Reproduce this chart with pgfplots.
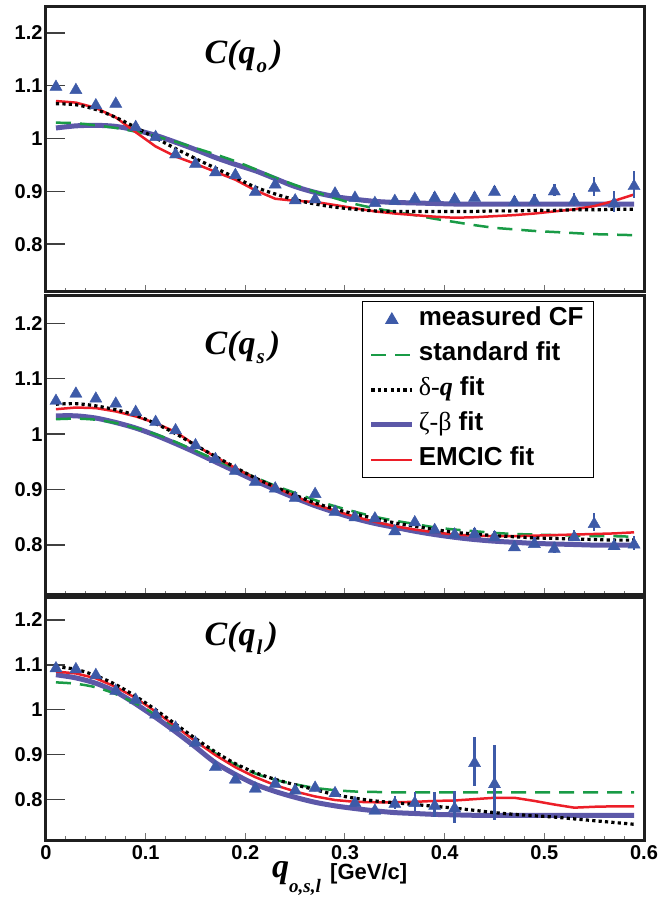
\documentclass[border=0pt]{standalone}
\usepackage{pgfplots}
\pgfplotsset{compat=1.18}
\usepackage{pgfplotstable}
\usepackage{fontspec}
\setmainfont{Liberation Sans}
\newfontfamily\tms{Liberation Serif}
\definecolor{tblue}{RGB}{61,90,168}
\definecolor{tgreen}{RGB}{25,155,70}
\definecolor{tpurple}{RGB}{92,88,168}
\definecolor{tred}{RGB}{236,30,40}

% measured CF: x y err
\pgfplotstableread{
x y e
0.01 1.101 0.004
0.03 1.095 0.004
0.05 1.066 0.004
0.07 1.069 0.004
0.09 1.025 0.004
0.11 1.006 0.004
0.13 0.973 0.004
0.15 0.955 0.004
0.17 0.939 0.004
0.19 0.934 0.005
0.21 0.902 0.005
0.23 0.916 0.005
0.25 0.886 0.005
0.27 0.888 0.005
0.29 0.899 0.006
0.31 0.891 0.006
0.33 0.881 0.006
0.35 0.885 0.006
0.37 0.889 0.006
0.39 0.891 0.007
0.41 0.888 0.007
0.43 0.891 0.008
0.45 0.902 0.008
0.47 0.883 0.009
0.49 0.885 0.010
0.51 0.903 0.011
0.53 0.885 0.012
0.55 0.910 0.018
0.57 0.880 0.020
0.59 0.913 0.025
}\mone
\pgfplotstableread{
x y e
0.01 1.063 0.004
0.03 1.076 0.004
0.05 1.067 0.004
0.07 1.058 0.004
0.09 1.043 0.004
0.11 1.025 0.004
0.13 1.010 0.004
0.15 0.983 0.004
0.17 0.958 0.004
0.19 0.937 0.005
0.21 0.917 0.005
0.23 0.905 0.005
0.25 0.888 0.005
0.27 0.895 0.005
0.29 0.863 0.006
0.31 0.853 0.006
0.33 0.851 0.006
0.35 0.828 0.006
0.37 0.844 0.006
0.39 0.830 0.007
0.41 0.822 0.007
0.43 0.823 0.008
0.45 0.817 0.008
0.47 0.799 0.009
0.49 0.805 0.009
0.51 0.796 0.010
0.53 0.817 0.010
0.55 0.841 0.016
0.57 0.801 0.010
0.59 0.804 0.012
}\mtwo
\pgfplotstableread{
x y e
0.01 1.096 0.004
0.03 1.094 0.004
0.05 1.081 0.004
0.07 1.046 0.004
0.09 1.026 0.004
0.11 0.993 0.004
0.13 0.964 0.004
0.15 0.930 0.004
0.17 0.876 0.005
0.19 0.848 0.005
0.21 0.828 0.005
0.23 0.839 0.005
0.25 0.824 0.006
0.27 0.830 0.006
0.29 0.818 0.007
0.31 0.796 0.008
0.33 0.779 0.010
0.35 0.794 0.015
0.37 0.796 0.022
0.39 0.790 0.028
0.41 0.784 0.036
0.43 0.885 0.055
0.45 0.838 0.084
}\mthree

% fits: x standard delta-q zeta-beta EMCIC
\pgfplotstableread{
x std dq zb em
0.01 1.030 1.066 1.020 1.071
0.03 1.029 1.064 1.024 1.068
0.05 1.025 1.055 1.025 1.058
0.07 1.020 1.040 1.023 1.040
0.09 1.013 1.021 1.016 1.012
0.11 1.004 1.001 1.006 0.985
0.13 0.994 0.981 0.993 0.966
0.15 0.982 0.962 0.979 0.952
0.17 0.970 0.944 0.964 0.937
0.19 0.957 0.926 0.951 0.922
0.21 0.942 0.908 0.939 0.902
0.23 0.926 0.895 0.924 0.886
0.25 0.912 0.884 0.909 0.882
0.27 0.899 0.876 0.898 0.880
0.29 0.887 0.870 0.890 0.874
0.31 0.876 0.866 0.885 0.868
0.33 0.868 0.863 0.881 0.862
0.35 0.861 0.862 0.879 0.858
0.37 0.855 0.862 0.878 0.855
0.39 0.848 0.862 0.877 0.852
0.41 0.842 0.862 0.876 0.850
0.43 0.836 0.862 0.876 0.851
0.45 0.831 0.863 0.876 0.853
0.47 0.828 0.863 0.876 0.855
0.49 0.825 0.864 0.876 0.858
0.51 0.823 0.864 0.876 0.862
0.53 0.821 0.865 0.876 0.866
0.55 0.819 0.865 0.876 0.872
0.57 0.818 0.866 0.876 0.882
0.59 0.817 0.866 0.876 0.894
}\fone
\pgfplotstableread{
x std dq zb em
0.01 1.027 1.054 1.033 1.045
0.03 1.028 1.055 1.033 1.048
0.05 1.026 1.051 1.029 1.047
0.07 1.020 1.044 1.021 1.041
0.09 1.011 1.034 1.011 1.032
0.11 1.000 1.019 0.998 1.020
0.13 0.986 1.001 0.983 1.004
0.15 0.970 0.980 0.967 0.980
0.17 0.954 0.960 0.950 0.959
0.19 0.938 0.940 0.933 0.939
0.21 0.922 0.921 0.916 0.920
0.23 0.907 0.905 0.900 0.904
0.25 0.894 0.890 0.885 0.888
0.27 0.881 0.876 0.871 0.873
0.29 0.870 0.865 0.859 0.862
0.31 0.860 0.856 0.848 0.851
0.33 0.851 0.848 0.839 0.842
0.35 0.844 0.840 0.832 0.834
0.37 0.838 0.834 0.825 0.828
0.39 0.832 0.828 0.819 0.823
0.41 0.828 0.823 0.814 0.819
0.43 0.825 0.820 0.810 0.817
0.45 0.822 0.817 0.807 0.816
0.47 0.820 0.815 0.805 0.816
0.49 0.819 0.813 0.803 0.817
0.51 0.818 0.812 0.802 0.818
0.53 0.817 0.811 0.801 0.819
0.55 0.816 0.810 0.800 0.820
0.57 0.816 0.809 0.800 0.821
0.59 0.815 0.809 0.800 0.823
}\ftwo
\pgfplotstableread{
x std dq zb em
0.01 1.061 1.096 1.078 1.085
0.03 1.058 1.090 1.071 1.081
0.05 1.050 1.076 1.059 1.070
0.07 1.035 1.056 1.040 1.051
0.09 1.014 1.030 1.013 1.026
0.11 0.989 1.000 0.983 0.996
0.13 0.961 0.968 0.951 0.963
0.15 0.931 0.936 0.917 0.930
0.17 0.903 0.906 0.882 0.899
0.19 0.878 0.880 0.856 0.872
0.21 0.858 0.860 0.834 0.850
0.23 0.844 0.845 0.818 0.832
0.25 0.834 0.833 0.805 0.818
0.27 0.826 0.822 0.794 0.807
0.29 0.821 0.811 0.786 0.799
0.31 0.818 0.803 0.780 0.795
0.33 0.817 0.797 0.775 0.794
0.35 0.816 0.793 0.771 0.794
0.37 0.816 0.789 0.769 0.795
0.39 0.816 0.785 0.767 0.797
0.41 0.816 0.781 0.766 0.798
0.43 0.816 0.776 0.765 0.801
0.45 0.816 0.771 0.765 0.804
0.47 0.816 0.767 0.765 0.804
0.49 0.816 0.764 0.765 0.797
0.51 0.816 0.761 0.765 0.789
0.53 0.816 0.757 0.765 0.782
0.55 0.816 0.753 0.765 0.784
0.57 0.816 0.749 0.765 0.785
0.59 0.816 0.745 0.765 0.785
}\fthree

\pgfplotsset{
  panel/.style={
    scale only axis, width=598pt,
    xmin=0, xmax=0.6, ymin=0.71, ymax=1.25,
    axis line style={line width=3pt, color=black!88},
    tick align=inside,
    xtick={0,0.1,0.2,0.3,0.4,0.5,0.6}, minor x tick num=4,
    ytick={0.8,0.9,1,1.1,1.2},
    xtick pos=left, ytick pos=left,
    xtick style={/pgfplots/major tick length=7pt, /pgfplots/minor tick length=4pt, line width=1pt, color=black!55},
    ytick style={/pgfplots/major tick length=19pt, line width=1.4pt, color=black!75},
    ticklabel style={font=\fontsize{20}{20}\selectfont\bfseries},
    xticklabel style={inner sep=0.5pt, yshift=-4.5pt},
    /pgf/number format/assume math mode=true,
    clip=false,
  },
  stdfit/.style={tgreen, line width=2.5pt, dash pattern=on 15pt off 9pt, smooth},
  dqfit/.style={black, line width=3.2pt, dash pattern=on 3.2pt off 3.2pt, smooth},
  zbfit/.style={tpurple, line width=5pt, smooth},
  emfit/.style={tred, line width=2.5pt},
  measmark/.style={only marks, mark=triangle*, mark size=7pt, color=tblue, mark options={fill=tblue}},
  meas/.style={measmark, mark options={fill=tblue, yshift=-1.75pt},
    /pgfplots/error bars/y dir=both, /pgfplots/error bars/y explicit,
    /pgfplots/error bars/error mark=none,
    /pgfplots/error bars/error bar style={line width=2.5pt, tblue}},
  measlegend/.style={legend image code/.code={\draw[##1] plot coordinates {(20.5pt,0pt)};}},
}

\newcommand{\paneltitle}[1]{\node[anchor=base west, inner sep=0pt] at (axis cs:0.159,1.143)
  {\tms\bfseries\itshape\fontsize{34}{34}\selectfont C(q\kern1pt\raisebox{-9pt}{\fontsize{21}{21}\selectfont #1}\kern4pt)};}

\begin{document}
\begin{tikzpicture}
\useasboundingbox (-46pt,-57pt) rectangle (612pt,840pt);

% ---------- panel 1 : C(q_o)
\begin{axis}[panel, at={(0pt,548.3pt)}, anchor=south west, height=285.2pt, xticklabels={}]
\addplot[zbfit] table[x=x,y=zb]{\fone};
\addplot[stdfit] table[x=x,y=std]{\fone};
\addplot[emfit] table[x=x,y=em]{\fone};
\addplot[dqfit] table[x=x,y=dq]{\fone};
\addplot[meas] table[x=x,y=y,y error=e]{\mone};
\paneltitle{o}
\end{axis}

% ---------- panel 2 : C(q_s)
\begin{axis}[panel, at={(0pt,245pt)}, anchor=south west, height=299.5pt, xticklabels={},
  legend image code/.code={\draw[#1] (0pt,0pt) -- (41pt,0pt);},
  legend cell align=left,
  legend style={at={(rel axis cs:0.529,0.98)}, anchor=north west, draw=black, line width=1pt,
    fill=white, font=\fontsize{26}{26}\selectfont\bfseries,
    inner xsep=6pt, inner ysep=4pt, row sep=7pt,
    nodes={inner ysep=2pt, inner xsep=4pt, text height=18pt, text depth=6pt}}]
\addlegendimage{measmark, measlegend}
\addlegendentry{measured CF\hspace{12pt}}
\addlegendimage{stdfit}
\addlegendentry{standard fit}
\addlegendimage{dqfit}
\addlegendentry{{\tms\mdseries\upshape δ-\bfseries\itshape q} fit}
\addlegendimage{zbfit}
\addlegendentry{{\tms\mdseries\upshape ζ-β} fit}
\addlegendimage{emfit}
\addlegendentry{EMCIC fit}
\addplot[zbfit, forget plot] table[x=x,y=zb]{\ftwo};
\addplot[stdfit, forget plot] table[x=x,y=std]{\ftwo};
\addplot[emfit, forget plot] table[x=x,y=em]{\ftwo};
\addplot[dqfit, forget plot] table[x=x,y=dq]{\ftwo};
\addplot[forget plot, meas] table[x=x,y=y,y error=e]{\mtwo};
\paneltitle{s}
\end{axis}

% ---------- panel 3 : C(q_l)
\begin{axis}[panel, at={(0pt,0pt)}, anchor=south west, height=242.5pt]
\addplot[zbfit] table[x=x,y=zb]{\fthree};
\addplot[stdfit] table[x=x,y=std]{\fthree};
\addplot[emfit] table[x=x,y=em]{\fthree};
\addplot[dqfit] table[x=x,y=dq]{\fthree};
\addplot[meas] table[x=x,y=y,y error=e]{\mthree};
\paneltitle{l}
\end{axis}

% axis title
\node[anchor=base west, inner sep=0pt] at (226pt,-37pt)
  {\tms\bfseries\itshape\fontsize{34}{34}\selectfont q\raisebox{-15pt}{\fontsize{19}{19}\selectfont o,s,l}};
\node[anchor=base west, inner sep=0pt] at (284pt,-39pt)
  {\fontsize{22}{22}\selectfont\bfseries [GeV/c]};
\end{tikzpicture}
\end{document}
